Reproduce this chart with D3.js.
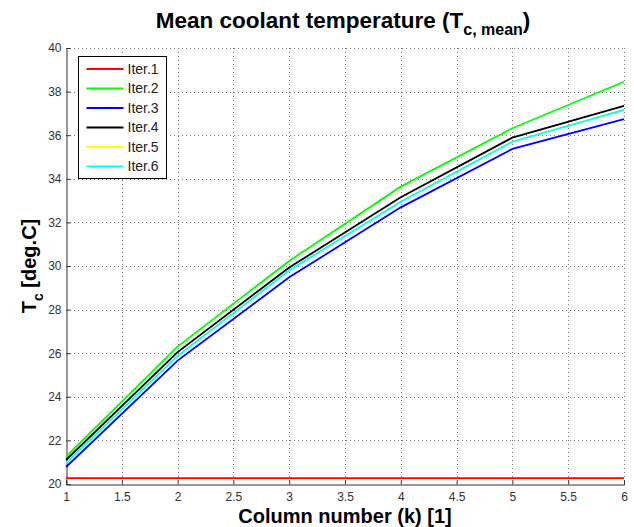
<!DOCTYPE html>
<html>
<head>
<meta charset="utf-8">
<script src="https://cdn.jsdelivr.net/npm/d3@7/dist/d3.min.js"></script>
<style>
  body { margin: 0; background: #fff; }
  svg { display: block; font-family: "Liberation Sans", Arial, sans-serif; }
</style>
</head>
<body>
<div id="body"></div>
<script>
var columns = [1, 2, 3, 4, 5, 6];
var iter1 = [20.27, 20.27, 20.27, 20.27, 20.27, 20.27];
var iter2 = [21.25, 26.3, 30.23, 33.64, 36.32, 38.45];
var iter3 = [20.78, 25.66, 29.48, 32.69, 35.37, 36.74];
var iter4 = [21.1, 26.05, 29.93, 33.15, 35.89, 37.35];
var iter5 = [20.96, 25.88, 29.8, 32.95, 35.7, 37.16];
var iter6 = [20.96, 25.88, 29.8, 32.95, 35.7, 37.16];
var seriesNames = ["Iter.1", "Iter.2", "Iter.3", "Iter.4", "Iter.5", "Iter.6"];
var seriesColors = ["#ff0000", "#00ff00", "#0000ff", "#000000", "#ffff00", "#00ffff"];
var xTicks = [1, 1.5, 2, 2.5, 3, 3.5, 4, 4.5, 5, 5.5, 6];
var yTicks = [20, 22, 24, 26, 28, 30, 32, 34, 36, 38, 40];

var series = [iter1, iter2, iter3, iter4, iter5, iter6];

var W = 634, H = 527;
var plot = { left: 66, right: 624, top: 48, bottom: 484 };

var svg = d3.select("#body").append("svg")
    .attr("width", W)
    .attr("height", H);

var x = d3.scaleLinear().domain([1, 6]).range([plot.left, plot.right]);
var y = d3.scaleLinear().domain([20, 40]).range([plot.bottom, plot.top]);

// grid
svg.append("g")
    .selectAll("line")
    .data(xTicks.slice(1))
    .enter().append("line")
    .attr("x1", d => Math.round(x(d)) + 0.5).attr("x2", d => Math.round(x(d)) + 0.5)
    .attr("y1", plot.top).attr("y2", plot.bottom)
    .attr("stroke", "#777").attr("stroke-dasharray", "1,3");

svg.append("g")
    .selectAll("line")
    .data(yTicks.slice(1))
    .enter().append("line")
    .attr("x1", plot.left).attr("x2", plot.right)
    .attr("y1", d => Math.round(y(d)) + 0.5).attr("y2", d => Math.round(y(d)) + 0.5)
    .attr("stroke", "#777").attr("stroke-dasharray", "1,3");

// axes
var xAxis = svg.append("g")
    .attr("transform", "translate(0," + (plot.bottom + 0.5) + ")")
    .call(d3.axisBottom(x).tickValues(xTicks).tickSize(-4).tickPadding(8).tickFormat(d3.format("")));
var yAxis = svg.append("g")
    .attr("transform", "translate(" + (plot.left + 0.5) + ",0)")
    .call(d3.axisLeft(y).tickValues(yTicks).tickSize(-4).tickPadding(5).tickFormat(d3.format("")));

[xAxis, yAxis].forEach(a => {
    a.select(".domain").attr("stroke", "#333");
    a.selectAll(".tick line").attr("stroke", "#333");
    a.selectAll(".tick text").attr("fill", "#333").style("font-size", "12px")
        .style("font-family", "'Liberation Sans Narrow', 'Liberation Sans', Arial, sans-serif");
});

// lines
var line = d3.line()
    .x((d, i) => x(columns[i]))
    .y(d => y(d));

svg.append("g")
    .selectAll("path")
    .data(series)
    .enter().append("path")
    .attr("d", line)
    .attr("fill", "none")
    .attr("stroke", (d, i) => seriesColors[i])
    .attr("stroke-width", 1.8);

// legend
var legend = svg.append("g").attr("transform", "translate(78.5,56.5)");
legend.append("rect")
    .attr("width", 88).attr("height", 122)
    .attr("fill", "#fff").attr("stroke", "#000");

var items = legend.selectAll("g")
    .data(seriesNames)
    .enter().append("g")
    .attr("transform", (d, i) => "translate(0," + (12.5 + i * 19.5) + ")");
items.append("line")
    .attr("x1", 8).attr("x2", 45)
    .attr("stroke", (d, i) => seriesColors[i])
    .attr("stroke-width", 1.8);
items.append("text")
    .attr("x", 49).attr("dy", "0.35em")
    .style("font-size", "14px")
    .attr("fill", "#222")
    .text(d => d);

// title
var title = svg.append("text")
    .attr("x", 343).attr("y", 28)
    .attr("text-anchor", "middle")
    .style("font-size", "22.5px").style("font-weight", "bold");
title.append("tspan").text("Mean coolant temperature (T");
title.append("tspan").attr("dy", 7).style("font-size", "16px").text("c, mean");
title.append("tspan").attr("dy", -7).text(")");

// x label
svg.append("text")
    .attr("x", (plot.left + plot.right) / 2).attr("y", 523)
    .attr("text-anchor", "middle")
    .style("font-size", "20px").style("font-weight", "bold")
    .text("Column number (k) [1]");

// y label
var ylab = svg.append("text")
    .attr("transform", "translate(36," + ((plot.top + plot.bottom) / 2) + ") rotate(-90)")
    .attr("text-anchor", "middle")
    .style("font-size", "20px").style("font-weight", "bold");
ylab.append("tspan").text("T");
ylab.append("tspan").attr("dy", 7).style("font-size", "14px").text("c");
ylab.append("tspan").attr("dy", -7).text(" [deg.C]");
</script>
</body>
</html>
